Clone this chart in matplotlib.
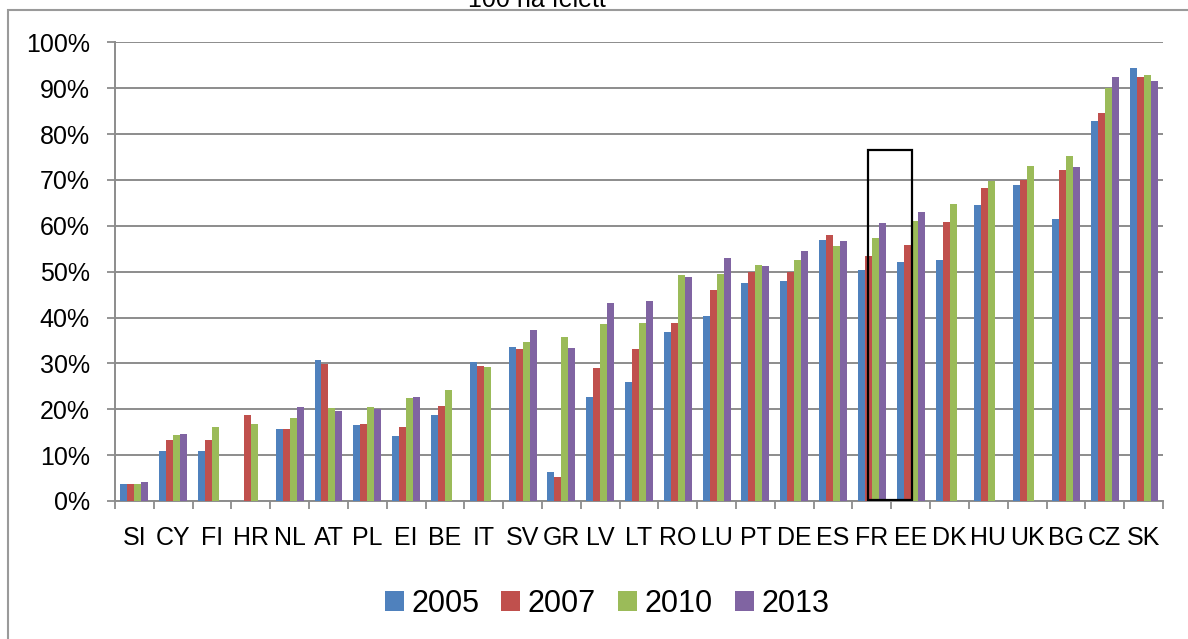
import numpy as np
import matplotlib
matplotlib.use("Agg")
import matplotlib.pyplot as plt
from matplotlib.patches import Rectangle

countries = ["SI", "CY", "FI", "HR", "NL", "AT", "PL", "EI", "BE", "IT", "SV", "GR", "LV", "LT",
             "RO", "LU", "PT", "DE", "ES", "FR", "EE", "DK", "HU", "UK", "BG", "CZ", "SK"]
nan = np.nan
v2005 = [3.8, 11.0, 11.0, nan, 15.7, 30.7, 16.5, 14.2, 18.7, 30.4, 33.5, 6.4, 22.7, 26.0,
         36.9, 40.4, 47.6, 48.0, 56.8, 50.3, 52.0, 52.5, 64.5, 68.8, 61.5, 82.9, 94.4]
v2007 = [3.7, 13.4, 13.2, 18.8, 15.8, 29.9, 16.7, 16.2, 20.7, 29.4, 33.2, 5.2, 29.1, 33.2,
         38.8, 45.9, 49.9, 49.9, 58.0, 53.4, 55.9, 60.8, 68.3, 70.0, 72.1, 84.6, 92.4]
v2010 = [3.7, 14.3, 16.1, 16.7, 18.2, 20.2, 20.4, 22.5, 24.3, 29.2, 34.6, 35.7, 38.6, 38.8,
         49.3, 49.4, 51.4, 52.5, 55.5, 57.4, 61.0, 64.7, 69.7, 73.0, 75.2, 90.0, 92.9]
v2013 = [4.2, 14.7, nan, nan, 20.4, 19.7, 20.0, 22.6, nan, nan, 37.2, 33.3, 43.2, 43.6,
         48.8, 52.9, 51.2, 54.6, 56.6, 60.5, 62.9, nan, nan, nan, 72.8, 92.4, 91.6]
years = ["2005", "2007", "2010", "2013"]
series = [v2005, v2007, v2010, v2013]
colors = ["#4F81BD", "#C0504D", "#9BBB59", "#8064A2"]

plt.rcParams["font.family"] = ["Liberation Sans", "DejaVu Sans"]
fs_tick, fs_leg = 18, 22

fig = plt.figure(figsize=(11.88, 6.39), dpi=100)
ax = fig.add_axes([115 / 1188, 1 - 501 / 639, (1163 - 115) / 1188, (501 - 42.3) / 639])

x = np.arange(len(countries))
w = 0.18
for k, (vals, c, yr) in enumerate(zip(series, colors, years)):
    ax.bar(x + (k - 1.5) * w, vals, width=w, color=c, label=yr, zorder=3)

# highlight box around FR / EE
ax.add_patch(Rectangle((18.9, 0.3), 1.13, 76.2, fill=False, edgecolor="black",
                       linewidth=1.6, zorder=5))

ax.set_xlim(-0.5, len(countries) - 0.5)
ax.set_ylim(0, 100)
ax.set_yticks(np.arange(0, 101, 10))
ax.set_yticklabels([f"{t}%" for t in range(0, 101, 10)], fontsize=fs_tick)
ax.set_xticks(x)
ax.set_xticklabels(countries, fontsize=fs_tick)
ax.set_xticks(np.arange(-0.5, len(countries), 1), minor=True)
ax.tick_params(axis="x", which="major", length=0, pad=18)
ax.tick_params(axis="x", which="minor", length=6, width=1.3, color="#8c8c8c", direction="out")
ax.tick_params(axis="y", length=6, width=1.3, color="#8c8c8c", pad=12)
ax.grid(axis="y", color="#8c8c8c", linewidth=1.4, zorder=0)
for s in ["top", "right"]:
    ax.spines[s].set_visible(False)
for s in ["left", "bottom"]:
    ax.spines[s].set_color("#8c8c8c")
    ax.spines[s].set_linewidth(1.4)

ax.legend(loc="center", bbox_to_anchor=(607 / 1188, 1 - 604 / 639),
          bbox_transform=fig.transFigure, ncol=4, frameon=False, fontsize=fs_leg,
          handlelength=0.62, handleheight=0.62, handletextpad=0.25, columnspacing=0.72)

# outer chart frame (cropped at the right and bottom)
fig.patches.append(Rectangle((8 / 1188, -0.1), 1.2, 1.1 - 10.5 / 639, fill=False,
                             edgecolor="#9a9a9a", linewidth=1.5,
                             transform=fig.transFigure, figure=fig))
fig.text(537 / 1188, 1 - 7 / 639, "100 na felett", ha="center", va="baseline", fontsize=fs_tick)

plt.savefig("out.png", dpi=100)
